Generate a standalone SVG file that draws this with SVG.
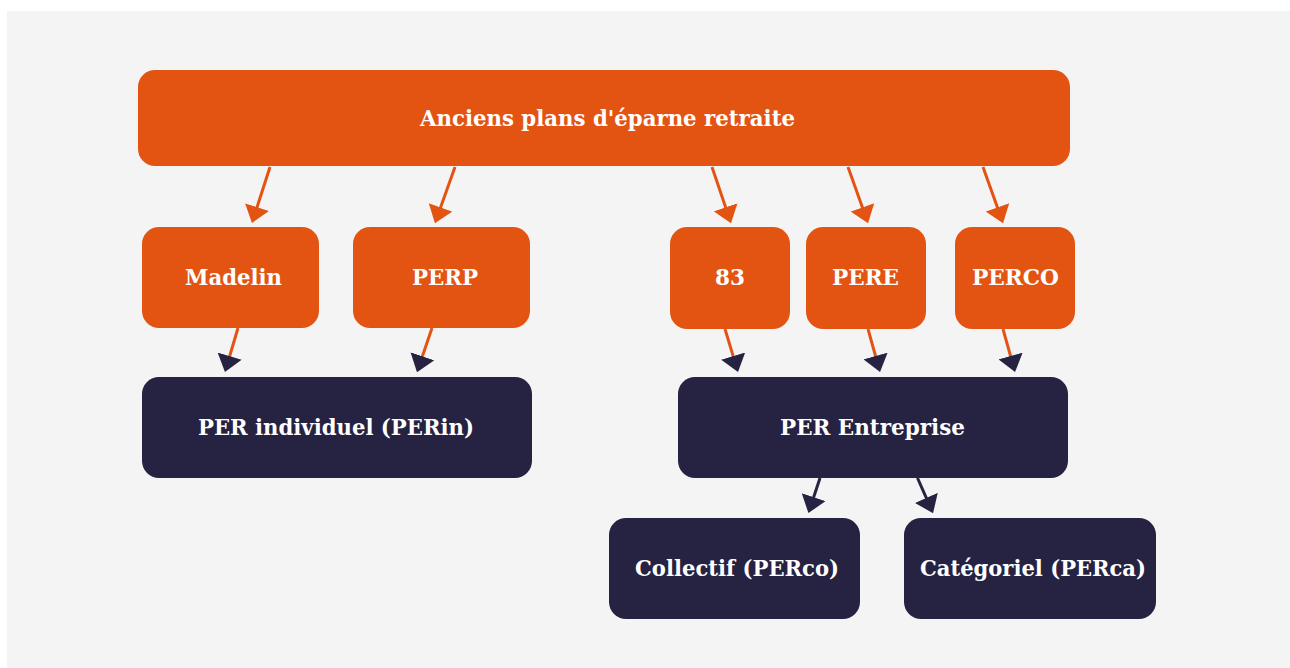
<svg xmlns="http://www.w3.org/2000/svg" width="1290" height="668" viewBox="0 0 1290 668">
<defs>
<style>
.or{fill:#E35413}
.nv{fill:#262242}
.t{font-family:"DejaVu Serif","Liberation Serif",serif;font-weight:bold;font-size:22px;fill:#ffffff;text-anchor:middle}
.lo{stroke:#E35413;stroke-width:3;fill:none}
.ln{stroke:#262242;stroke-width:3;fill:none}
</style>
<marker id="ho" viewBox="0 0 16 24" refX="13" refY="12" markerWidth="17" markerHeight="25" markerUnits="userSpaceOnUse" orient="auto"><path d="M0,0 L16,12 L0,24 Z" fill="#E35413"/></marker>
<marker id="hn" viewBox="0 0 16 24" refX="13" refY="12" markerWidth="17" markerHeight="25" markerUnits="userSpaceOnUse" orient="auto"><path d="M0,0 L16,12 L0,24 Z" fill="#262242"/></marker>
</defs>
<rect x="0" y="0" width="1290" height="668" fill="#ffffff"/>
<rect x="7" y="11" width="1283" height="657" fill="#F4F4F4"/>
<g id="connectors">
<line class="lo" x1="270" y1="167" x2="252.9" y2="220.1" marker-end="url(#ho)"/>
<line class="lo" x1="455" y1="167" x2="436" y2="220.2" marker-end="url(#ho)"/>
<line class="lo" x1="712" y1="167" x2="730" y2="220.2" marker-end="url(#ho)"/>
<line class="lo" x1="848" y1="167" x2="867" y2="220.2" marker-end="url(#ho)"/>
<line class="lo" x1="983" y1="167" x2="1002" y2="220.2" marker-end="url(#ho)"/>
<line class="lo" x1="238" y1="328" x2="225.8" y2="369.1" marker-end="url(#hn)"/>
<line class="lo" x1="432" y1="328" x2="418" y2="369.2" marker-end="url(#hn)"/>
<line class="lo" x1="725" y1="329" x2="737.1" y2="369.1" marker-end="url(#hn)"/>
<line class="lo" x1="868" y1="329" x2="879.2" y2="369.1" marker-end="url(#hn)"/>
<line class="lo" x1="1003" y1="329" x2="1014.2" y2="369.1" marker-end="url(#hn)"/>
<line class="ln" x1="820" y1="478" x2="809.4" y2="510.1" marker-end="url(#hn)"/>
<line class="ln" x1="917.5" y1="478" x2="931.8" y2="510.3" marker-end="url(#hn)"/>
</g>
<g id="anciens"><rect class="or" x="138" y="70" width="932" height="96" rx="17"/><text class="t" x="607.5" y="126" textLength="375" lengthAdjust="spacingAndGlyphs">Anciens plans d'éparne retraite</text></g>
<g id="madelin"><rect class="or" x="142" y="227" width="177" height="101" rx="17"/><text class="t" x="233.5" y="285" textLength="97" lengthAdjust="spacingAndGlyphs">Madelin</text></g>
<g id="perp"><rect class="or" x="353" y="227" width="177" height="101" rx="17"/><text class="t" x="445" y="285" textLength="66" lengthAdjust="spacingAndGlyphs">PERP</text></g>
<g id="n83"><rect class="or" x="670" y="227" width="120" height="102" rx="17"/><text class="t" x="730" y="285" textLength="30" lengthAdjust="spacingAndGlyphs">83</text></g>
<g id="pere"><rect class="or" x="806" y="227" width="120" height="102" rx="17"/><text class="t" x="865.5" y="285" textLength="67" lengthAdjust="spacingAndGlyphs">PERE</text></g>
<g id="perco"><rect class="or" x="955" y="227" width="120" height="102" rx="17"/><text class="t" x="1015.5" y="285" textLength="87" lengthAdjust="spacingAndGlyphs">PERCO</text></g>
<g id="perin"><rect class="nv" x="142" y="377" width="390" height="101" rx="17"/><text class="t" x="336" y="435" textLength="276" lengthAdjust="spacingAndGlyphs">PER individuel (PERin)</text></g>
<g id="entreprise"><rect class="nv" x="678" y="377" width="390" height="101" rx="17"/><text class="t" x="872.5" y="435" textLength="185" lengthAdjust="spacingAndGlyphs">PER Entreprise</text></g>
<g id="collectif"><rect class="nv" x="609" y="518" width="251" height="101" rx="17"/><text class="t" x="737" y="576" textLength="204" lengthAdjust="spacingAndGlyphs">Collectif (PERco)</text></g>
<g id="categoriel"><rect class="nv" x="904" y="518" width="252" height="101" rx="17"/><text class="t" x="1033" y="576" textLength="226" lengthAdjust="spacingAndGlyphs">Catégoriel (PERca)</text></g>
</svg>
